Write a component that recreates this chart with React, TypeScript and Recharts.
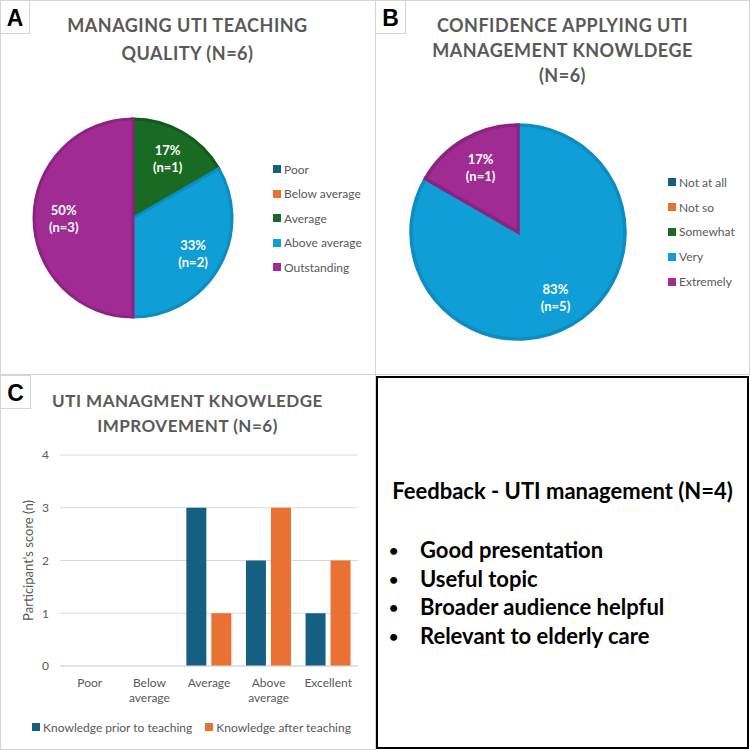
import { Bar, BarChart, CartesianGrid, Cell, Legend, Pie, PieChart, XAxis, YAxis } from 'recharts'

// panel A: teaching quality
const qualityLabels = ['Poor', 'Below average', 'Average', 'Above average', 'Outstanding']
const qualityCounts = [0, 0, 1, 2, 3]

// panel B: confidence
const confidenceLabels = ['Not at all', 'Not so', 'Somewhat', 'Very', 'Extremely']
const confidenceCounts = [0, 0, 0, 5, 1]

// panel C: knowledge before / after
const levelLabels = ['Poor', 'Below average', 'Average', 'Above average', 'Excellent']
const priorScores = [0, 0, 3, 2, 1]
const afterScores = [0, 0, 1, 3, 2]
const yTicks = [0, 1, 2, 3, 4]

// panel D
const feedbackItems = ['Good presentation', 'Useful topic', 'Broader audience helpful', 'Relevant to elderly care']

const PALETTE = ['#156082', '#E97132', '#196B24', '#0F9ED5', '#A02B93']
const EDGE = ['#124f6b', '#c85f29', '#15581e', '#0c8cc0', '#8b2480']
const TITLE = '#595959'
const GRID = '#d9d9d9'
const PANEL_BORDER = '#d4d4d4'
const FONT = 'Lato, "Open Sans", sans-serif'

const RAD = Math.PI / 180

function pieData(labels: string[], counts: number[]) {
  return labels
    .map((name, i) => ({ name, value: counts[i], idx: i }))
    .filter((d) => d.value > 0)
}

function PieLabel(props: any) {
  const { cx, cy, midAngle, outerRadius, percent, value } = props
  const r = outerRadius * 0.7
  const x = cx + r * Math.cos(-midAngle * RAD)
  const y = cy + r * Math.sin(-midAngle * RAD)
  return (
    <text x={x} y={y} fill="#ffffff" fontSize={13} fontWeight={700} fontFamily={FONT} textAnchor="middle">
      <tspan x={x} dy={-3}>{Math.round(percent * 100)}%</tspan>
      <tspan x={x} dy={17}>(n={value})</tspan>
    </text>
  )
}

function YLabel(props: any) {
  const { viewBox } = props
  const x = viewBox.x + 13
  const y = viewBox.y + viewBox.height / 2
  return (
    <text
      x={x}
      y={y}
      transform={`rotate(-90, ${x}, ${y})`}
      textAnchor="middle"
      dominantBaseline="central"
      fill={TITLE}
      fontSize={13}
      fontFamily={FONT}
    >
      Participant's score (n)
    </text>
  )
}

function LegendList({ labels, gap }: { labels: string[]; gap: number }) {
  return (
    <div style={{ fontFamily: FONT, fontSize: 12, color: TITLE }}>
      {labels.map((l, i) => (
        <div key={l} style={{ height: gap, display: 'flex', alignItems: 'center' }}>
          <span style={{ width: 8, height: 8, background: PALETTE[i], marginRight: 3, display: 'inline-block' }} />
          {l}
        </div>
      ))}
    </div>
  )
}

function Letter({ ch, left, top, w }: { ch: string; left: number; top: number; w: number }) {
  return (
    <div
      style={{
        position: 'absolute',
        left,
        top,
        width: w,
        height: 34,
        boxSizing: 'border-box',
        border: `1px solid ${PANEL_BORDER}`,
        background: '#fff',
        fontFamily: '"Liberation Sans", Arial, sans-serif',
        fontWeight: 700,
        fontSize: 23,
        lineHeight: '34px',
        textAlign: 'center',
        color: '#000',
      }}
    >
      {ch}
    </div>
  )
}

function Title({ lines, top, left, lh, size }: { lines: string[]; top: number; left: number; lh: number; size: number }) {
  return (
    <div
      style={{
        position: 'absolute',
        left,
        top,
        width: 375,
        textAlign: 'center',
        fontFamily: FONT,
        fontWeight: 700,
        fontSize: size,
        lineHeight: `${lh}px`,
        letterSpacing: 0.5,
        color: TITLE,
      }}
    >
      {lines.map((l) => (
        <div key={l}>{l}</div>
      ))}
    </div>
  )
}

function XTick(props: any) {
  const { x, y, payload } = props
  const words = String(payload.value).split(' ')
  return (
    <text x={x} y={y} fill={TITLE} fontSize={12} fontFamily={FONT} textAnchor="middle">
      {words.map((w, i) => (
        <tspan key={w} x={x} dy={i === 0 ? 21 : 15}>
          {w}
        </tspan>
      ))}
    </text>
  )
}

function BarLegend() {
  const items = ['Knowledge prior to teaching', 'Knowledge after teaching']
  return (
    <div
      style={{
        display: 'flex',
        justifyContent: 'center',
        gap: 13,
        fontFamily: FONT,
        fontSize: 12,
        color: TITLE,
        height: 30,
        alignItems: 'center',
      }}
    >
      {items.map((l, i) => (
        <div key={l} style={{ display: 'flex', alignItems: 'center' }}>
          <span style={{ width: 8, height: 8, background: PALETTE[i], marginRight: 3, display: 'inline-block' }} />
          {l}
        </div>
      ))}
    </div>
  )
}

export default function App() {
  const dataA = pieData(qualityLabels, qualityCounts)
  const dataB = pieData(confidenceLabels, confidenceCounts)
  const barData = levelLabels.map((name, i) => ({ name, prior: priorScores[i], after: afterScores[i] }))

  return (
    <div style={{ position: 'absolute', left: 0, top: 0, width: 750, height: 750, background: '#fff', overflow: 'hidden' }}>
      {/* panel frames */}
      <div style={{ position: 'absolute', left: 0, top: 0, width: 376, height: 375, boxSizing: 'border-box', border: `1px solid ${PANEL_BORDER}` }} />
      <div style={{ position: 'absolute', left: 375, top: 0, width: 375, height: 375, boxSizing: 'border-box', border: `1px solid ${PANEL_BORDER}` }} />
      <div style={{ position: 'absolute', left: 0, top: 374, width: 376, height: 376, boxSizing: 'border-box', border: `1px solid ${PANEL_BORDER}` }} />

      {/* A */}
      <div style={{ position: 'absolute', left: 0, top: 0 }}>
        <PieChart width={375} height={374} margin={{ top: 0, right: 0, bottom: 0, left: 0 }}>
          <Pie
            data={dataA}
            dataKey="value"
            nameKey="name"
            cx={133}
            cy={218}
            outerRadius={99}
            startAngle={90}
            endAngle={-270}
            label={PieLabel}
            labelLine={false}
            isAnimationActive={false}
          >
            {dataA.map((d) => (
              <Cell key={d.name} fill={PALETTE[d.idx]} stroke={EDGE[d.idx]} strokeWidth={3} />
            ))}
          </Pie>
          <Legend
            content={() => <LegendList labels={qualityLabels} gap={24.5} />}
            wrapperStyle={{ left: 273, top: 157, width: 100, bottom: 'auto', right: 'auto' }}
          />
        </PieChart>
      </div>
      <Title lines={['MANAGING UTI TEACHING', 'QUALITY (N=6)']} top={11} left={0} lh={28} size={18} />
      <Letter ch="A" left={0} top={0} w={30} />

      {/* B */}
      <div style={{ position: 'absolute', left: 375, top: 0 }}>
        <PieChart width={375} height={374} margin={{ top: 0, right: 0, bottom: 0, left: 0 }}>
          <Pie
            data={dataB}
            dataKey="value"
            nameKey="name"
            cx={143}
            cy={232}
            outerRadius={107}
            startAngle={90}
            endAngle={-270}
            label={PieLabel}
            labelLine={false}
            isAnimationActive={false}
          >
            {dataB.map((d) => (
              <Cell key={d.name} fill={PALETTE[d.idx]} stroke={EDGE[d.idx]} strokeWidth={3.5} />
            ))}
          </Pie>
          <Legend
            content={() => <LegendList labels={confidenceLabels} gap={24.8} />}
            wrapperStyle={{ left: 293, top: 170, width: 80, bottom: 'auto', right: 'auto' }}
          />
        </PieChart>
      </div>
      <Title lines={['CONFIDENCE APPLYING UTI', 'MANAGEMENT KNOWLDEGE', '(N=6)']} top={13} left={375} lh={25} size={18} />
      <Letter ch="B" left={375} top={0} w={31} />

      {/* C */}
      <div style={{ position: 'absolute', left: 0, top: 372 }}>
        <BarChart
          width={375}
          height={378}
          data={barData}
          margin={{ top: 83, right: 17, bottom: 8, left: 15 }}
          barCategoryGap="12%"
          barGap={5}
        >
          <CartesianGrid vertical={false} stroke={GRID} strokeWidth={1} />
          <XAxis
            dataKey="name"
            interval={0}
            height={46}
            axisLine={{ stroke: GRID }}
            tickLine={false}
            tickSize={0}
            tickMargin={0}
            tick={<XTick />}
          />
          <YAxis
            domain={[0, 4]}
            ticks={yTicks}
            width={45}
            axisLine={false}
            tickLine={false}
            tickSize={0}
            tickMargin={11}
            tick={{ fill: TITLE, fontSize: 12, fontFamily: FONT }}
            label={YLabel}
          />
          <Bar dataKey="prior" fill={PALETTE[0]} isAnimationActive={false} />
          <Bar dataKey="after" fill={PALETTE[1]} isAnimationActive={false} />
          <Legend
            verticalAlign="bottom"
            height={30}
            content={() => <BarLegend />}
            wrapperStyle={{ left: 19, width: 345 }}
          />
        </BarChart>
      </div>
      <Title lines={['UTI MANAGMENT KNOWLEDGE', 'IMPROVEMENT (N=6)']} top={388} left={0} lh={25} size={17} />
      <Letter ch="C" left={0} top={375} w={31} />

      {/* D */}
      <div
        style={{
          position: 'absolute',
          left: 376,
          top: 376,
          width: 373,
          height: 373,
          boxSizing: 'border-box',
          border: '2px solid #000',
          fontFamily: FONT,
          color: '#000',
        }}
      >
        <div style={{ position: 'absolute', top: 98, left: 0, width: 369, textAlign: 'center', fontWeight: 700, fontSize: 22, lineHeight: '30px' }}>
          Feedback - UTI management (N=4)
        </div>
        <div style={{ position: 'absolute', top: 158, left: 11 }}>
          {feedbackItems.map((t) => (
            <div key={t} style={{ fontWeight: 700, fontSize: 22, lineHeight: '28.7px', display: 'flex', alignItems: 'center' }}>
              <span style={{ width: 31, fontSize: 16 }}>•</span>
              {t}
            </div>
          ))}
        </div>
      </div>
    </div>
  )
}
